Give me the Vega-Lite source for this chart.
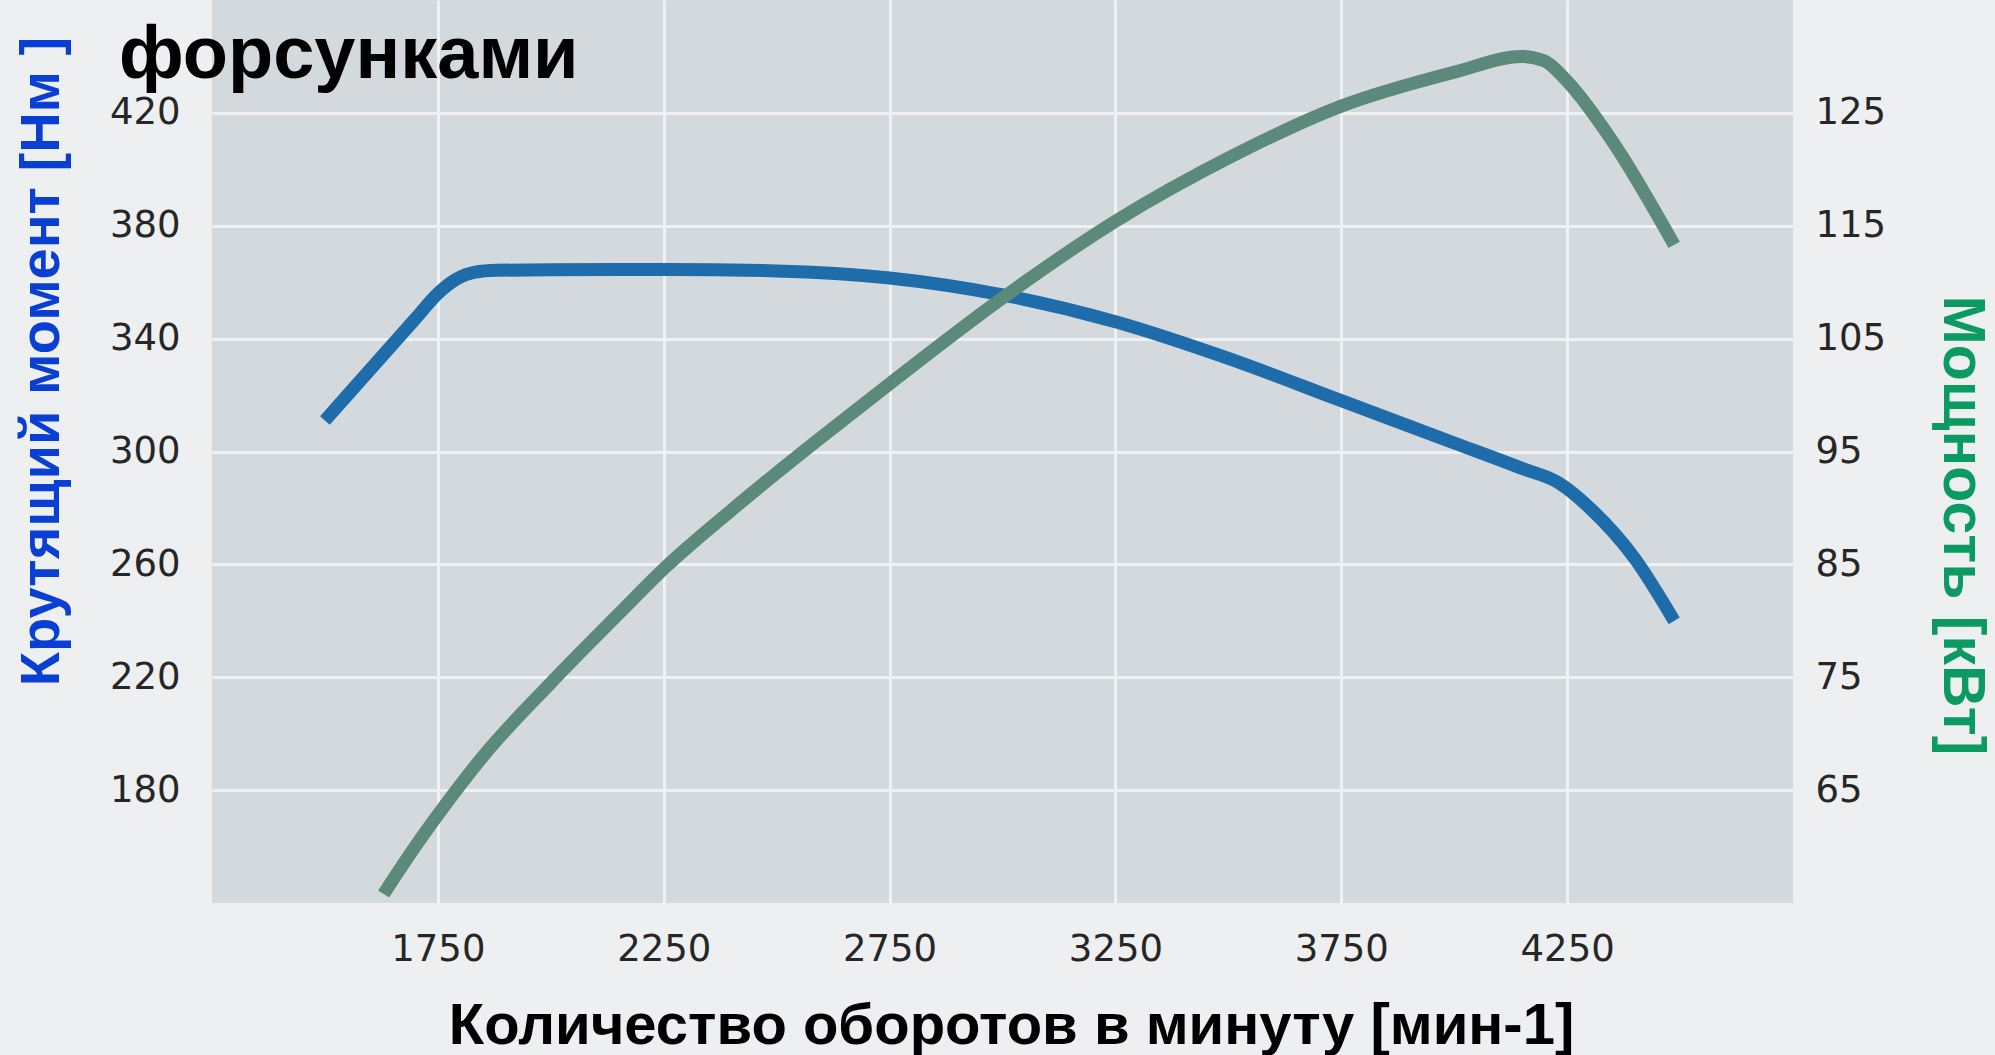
{
  "$schema": "https://vega.github.io/schema/vega-lite/v6.json",
  "width": 1581,
  "height": 903,
  "autosize": {"type": "none"},
  "padding": {"left": 212, "top": 0, "right": 202, "bottom": 152},
  "background": "#eeeff1",
  "config": {
    "view": {"fill": "#d4d9dd", "stroke": null},
    "axis": {
      "domain": false,
      "ticks": false,
      "labelFont": "DejaVu Sans",
      "labelFontSize": 37,
      "labelColor": "#262626",
      "gridColor": "#eff1f2",
      "gridWidth": 3,
      "gridOpacity": 1,
      "titleFont": "Liberation Sans",
      "titleFontWeight": "bold"
    }
  },
  "title": {
    "text": "форсунками",
    "anchor": "start",
    "frame": "group",
    "orient": "top",
    "offset": 0,
    "dx": -93,
    "dy": 152,
    "baseline": "alphabetic",
    "font": "Liberation Sans",
    "fontWeight": "bold",
    "fontSize": 74,
    "color": "#000000"
  },
  "datasets": {
    "torque": [
      {"rpm": 1500, "torque": 311},
      {"rpm": 1600, "torque": 329},
      {"rpm": 1700, "torque": 347},
      {"rpm": 1750, "torque": 356},
      {"rpm": 1790, "torque": 361},
      {"rpm": 1830, "torque": 363.5},
      {"rpm": 1880, "torque": 364.2},
      {"rpm": 2000, "torque": 364.4},
      {"rpm": 2250, "torque": 364.5},
      {"rpm": 2500, "torque": 364},
      {"rpm": 2750, "torque": 361.5},
      {"rpm": 3000, "torque": 355.5},
      {"rpm": 3250, "torque": 346},
      {"rpm": 3500, "torque": 333},
      {"rpm": 3750, "torque": 318},
      {"rpm": 4000, "torque": 303},
      {"rpm": 4150, "torque": 294},
      {"rpm": 4230, "torque": 289},
      {"rpm": 4300, "torque": 280},
      {"rpm": 4400, "torque": 262},
      {"rpm": 4487, "torque": 240}
    ],
    "power": [
      {"rpm": 1630, "power": 55.8},
      {"rpm": 1700, "power": 60},
      {"rpm": 1750, "power": 62.8},
      {"rpm": 1850, "power": 68},
      {"rpm": 2000, "power": 74.5},
      {"rpm": 2150, "power": 80.6},
      {"rpm": 2250, "power": 84.6},
      {"rpm": 2400, "power": 89.8},
      {"rpm": 2500, "power": 93.1},
      {"rpm": 2600, "power": 96.3},
      {"rpm": 2750, "power": 101},
      {"rpm": 3000, "power": 108.6},
      {"rpm": 3250, "power": 115.4},
      {"rpm": 3500, "power": 121},
      {"rpm": 3750, "power": 125.6},
      {"rpm": 4000, "power": 128.6},
      {"rpm": 4150, "power": 130},
      {"rpm": 4200, "power": 129.6},
      {"rpm": 4250, "power": 127.8},
      {"rpm": 4350, "power": 122.5},
      {"rpm": 4487, "power": 113.3}
    ]
  },
  "encoding": {
    "x": {
      "field": "rpm",
      "type": "quantitative",
      "scale": {"domain": [1250, 4750], "nice": false, "zero": false},
      "axis": {
        "values": [1750, 2250, 2750, 3250, 3750, 4250],
        "format": "d",
        "grid": true,
        "labelPadding": 28,
        "title": "Количество оборотов в минуту [мин-1]",
        "titleFontSize": 58,
        "titleColor": "#000000",
        "titleX": 799,
        "titleY": 140,
        "titleAlign": "center",
        "titleBaseline": "alphabetic"
      }
    }
  },
  "layer": [
    {
      "data": {"name": "torque"},
      "mark": {"type": "line", "color": "#1f6caa", "strokeWidth": 13, "interpolate": "monotone", "strokeCap": "butt"},
      "encoding": {
        "y": {
          "field": "torque",
          "type": "quantitative",
          "scale": {"domain": [140, 460], "nice": false, "zero": false},
          "axis": {
            "orient": "left",
            "values": [180, 220, 260, 300, 340, 380, 420],
            "grid": true,
            "labelPadding": 32,
            "title": "Крутящий момент [Нм ]",
            "titleColor": "#0a3fd4",
            "titleFontSize": 56,
            "titleAngle": -90,
            "titleX": -154,
            "titleY": 361,
            "titleAlign": "center",
            "titleBaseline": "alphabetic"
          }
        }
      }
    },
    {
      "data": {"name": "power"},
      "mark": {"type": "line", "color": "#5b8a7a", "strokeWidth": 13, "interpolate": "monotone", "strokeCap": "butt"},
      "encoding": {
        "y": {
          "field": "power",
          "type": "quantitative",
          "scale": {"domain": [55, 135], "nice": false, "zero": false},
          "axis": {
            "orient": "right",
            "values": [65, 75, 85, 95, 105, 115, 125],
            "grid": false,
            "labelPadding": 22,
            "title": "Мощность [кВт]",
            "titleColor": "#0a9a62",
            "titleFontSize": 59,
            "titleAngle": 90,
            "titleX": 150,
            "titleY": 525,
            "titleAlign": "center",
            "titleBaseline": "alphabetic"
          }
        }
      }
    }
  ],
  "resolve": {"scale": {"y": "independent"}}
}
